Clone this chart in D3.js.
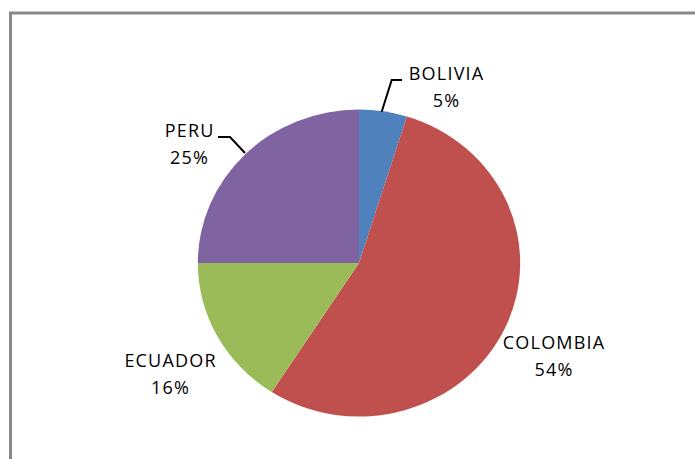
<!DOCTYPE html>
<html>
<head>
<meta charset="utf-8">
<script src="https://cdn.jsdelivr.net/npm/d3@7"></script>
<style>
  html, body { margin: 0; padding: 0; background: #fff; }
  svg { display: block; }
  text { font-family: "Open Sans", Lato, sans-serif; fill: #000; }
</style>
</head>
<body>
<div id="chart"></div>
<script>
(function () {
  'use strict';

  // data: share of total, clockwise from 12 o'clock
  var countries = ['BOLIVIA', 'COLOMBIA', 'ECUADOR', 'PERU'];
  var shares    = [4.8, 54.3, 15.9, 25.0];
  var colors    = ['#4F81BD', '#C0504D', '#9BBB59', '#8064A2'];

  var W = 695, H = 459;
  var cx = 359, cy = 263, R = 153.5, sx = 1.05;   // picture is slightly stretched horizontally

  var svg = d3.select('#chart').append('svg')
    .attr('width', W).attr('height', H);

  // chart frame (runs off right and bottom)
  svg.append('path')
    .attr('d', 'M10.5,' + H + 'V13H' + W)
    .attr('fill', 'none')
    .attr('stroke', '#888')
    .attr('stroke-width', 3);

  var data = countries.map(function (c, i) {
    return { name: c, value: shares[i], color: colors[i] };
  });

  var pie = d3.pie().sort(null).value(function (d) { return d.value; });
  var arc = d3.arc().innerRadius(0).outerRadius(R);
  var arcs = pie(data);

  var g = svg.append('g')
    .attr('transform', 'translate(' + cx + ',' + cy + ') scale(' + sx + ',1)');
  g.selectAll('path.slice')
    .data(arcs)
    .join('path')
    .attr('class', 'slice')
    .attr('d', arc)
    .attr('fill', function (d) { return d.data.color; });

  // label placement (absolute page coords), leader lines where Excel used them
  var labelPos = {
    BOLIVIA:  { x: 446,   y: 80,  leader: [[381.7, 111.7], [391.7, 80], [402, 80]] },
    COLOMBIA: { x: 553.5, y: 349 },
    ECUADOR:  { x: 170,   y: 367 },
    PERU:     { x: 189,   y: 137, leader: [[218, 137], [230, 137], [245, 153]] }
  };

  var line = d3.line();
  arcs.forEach(function (d) {
    var p = labelPos[d.data.name];
    if (p.leader) {
      svg.append('path')
        .attr('d', line(p.leader))
        .attr('fill', 'none')
        .attr('stroke', '#000')
        .attr('stroke-width', 2);
    }
    var t = svg.append('text')
      .attr('text-anchor', 'middle')
      .attr('font-size', 18)
      .attr('letter-spacing', 1.2);
    t.append('tspan').attr('x', p.x + 0.6).attr('y', p.y).text(d.data.name);
    t.append('tspan').attr('x', p.x + 0.6).attr('y', p.y + 27)
      .text(Math.round(d.data.value) + '%');
  });
})();
</script>
</body>
</html>
